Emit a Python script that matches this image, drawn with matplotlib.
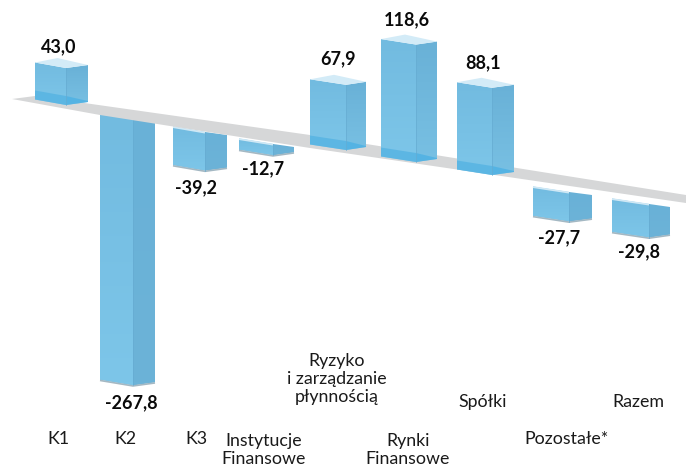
import numpy as np
import matplotlib
matplotlib.use("Agg")
import matplotlib.pyplot as plt
from matplotlib.patches import Polygon
from matplotlib.colors import LinearSegmentedColormap

# data
categories = ["K1", "K2", "K3", "Instytucje\nFinansowe",
              "Ryzyko\ni zarządzanie\npłynnością", "Rynki\nFinansowe",
              "Spółki", "Pozostałe*", "Razem"]
values = [43.0, -267.8, -39.2, -12.7, 67.9, 118.6, 88.1, -27.7, -29.8]
value_labels = ["43,0", "-267,8", "-39,2", "-12,7", "67,9", "118,6", "88,1", "-27,7", "-29,8"]

# layout (pixels): bar-order is the chart's order of values
left = [35, 100, 173, 239, 310, 381, 457, 533, 612]
mid = [66, 133, 205, 273, 346, 416, 492, 569, 649]
right = [88, 155, 227, 294, 366, 437, 514, 592, 670]
zero_y = [105, 119, 132, 144, 150, 162, 175, 192, 204]   # front vertex at value 0
px_per_unit = [0.86, 0.995, 0.99, 0.9, 0.96, 0.99, 0.99, 1.07, 1.13]
label_pos = [(59, 47), (131, 403), (196, 188), (263, 169), (338, 59),
             (407, 20), (483, 63), (559, 238), (639, 252)]
cat_pos = [(58, 439), (125, 439), (196, 439), (264, 450), (337, 379),
           (408, 450), (483, 402), (567, 439), (638, 402)]
strip = [(12, 99), (35, 96), (310, 135), (686, 195), (686, 203), (310, 148), (100, 115)]

FONT = "Lato"
fig = plt.figure(figsize=(6.86, 4.70), dpi=100)
ax = fig.add_axes([0, 0, 1, 1])
ax.set_xlim(0, 686)
ax.set_ylim(470, 0)
ax.axis("off")

ax.add_patch(Polygon(strip, closed=True, fc="#d6d7d8", ec="none", zorder=2))


def grad_face(pts, c_top, c_bot, z):
    pts = np.array(pts, float)
    cmap = LinearSegmentedColormap.from_list("g", [c_top, c_bot])
    x0, x1, y0, y1 = pts[:, 0].min(), pts[:, 0].max(), pts[:, 1].min(), pts[:, 1].max()
    im = ax.imshow(np.linspace(0, 1, 64)[:, None], cmap=cmap, extent=(x0, x1, y1, y0),
                   aspect="auto", zorder=z, interpolation="bilinear")
    im.set_clip_path(Polygon(pts, closed=True, transform=ax.transData))


for i, v in enumerate(values):
    l, m, r, z0 = left[i], mid[i], right[i], zero_y[i]
    h = abs(v) * px_per_unit[i]
    zf = (3 + i * 0.1) if v > 0 else (1 + i * 0.1)
    dl, dr = -5.5, -3                     # perspective offsets of the side corners
    if v > 0:
        top, bot = z0 - h, z0
        side = [(m, top), (r, top + dr), (r, bot + dr), (m, bot)]
    else:
        top, bot = z0, z0 + h
        side = [(m, top), (r, top + 3), (r, bot + dr), (m, bot)]
    front = [(l, top + dl), (m, top), (m, bot), (l, bot + dl)]
    grad_face(front, "#72bbe0", "#7dc6e9", zf)
    grad_face(side, "#69b1d7", "#78c0e3" if v > 0 else "#6cb3d8", zf)
    if v > 0:
        # top cap and the reflection where the bar crosses the base plane
        cap = [(l, top + dl), ((l + r) / 2 - 4, top - 10), (r, top + dr), (m, top)]
        ax.add_patch(Polygon(cap, closed=True, fc="#d3ebf7", ec="none", zorder=zf))
        rh = 9
        ax.add_patch(Polygon([(l, bot + dl - rh), (m, bot - rh), (m, bot), (l, bot + dl)],
                             closed=True, fc="#55b3e2", alpha=.8, ec="none", zorder=zf + .01))
        ax.add_patch(Polygon([(m, bot - rh), (r, bot + dr - 1), (r, bot + dr), (m, bot)],
                             closed=True, fc="#4fb2e4", alpha=.85, ec="none", zorder=zf + .01))
    else:
        # lit upper edge and dark lower edge
        if i != 1:
            ax.plot([l, m], [top + dl + .6, top + .6], color="#cfe8f5", lw=1.3, zorder=zf + .01,
                    solid_capstyle="butt")
        ax.plot([l, m, r], [bot + dl + .5, bot + .5, bot + dr + .5], color="#a4b8c3", lw=1.2,
                zorder=zf + .01, solid_capstyle="butt")
    ax.plot([m, m], [top, bot], color="#66acd2", lw=.5, zorder=zf + .02)

for (x, y), t in zip(label_pos, value_labels):
    ax.text(x, y, t, ha="center", va="center", family=FONT, weight="bold",
            fontsize=13, color="#0a0a0a", zorder=10)
for (x, y), t in zip(cat_pos, categories):
    ax.text(x, y, t, ha="center", va="center", family=FONT, fontsize=12.8,
            color="#1a1a1a", linespacing=1.16, zorder=10)

ax.set_xlim(0, 686)
ax.set_ylim(470, 0)
fig.savefig("out.png", dpi=100)
